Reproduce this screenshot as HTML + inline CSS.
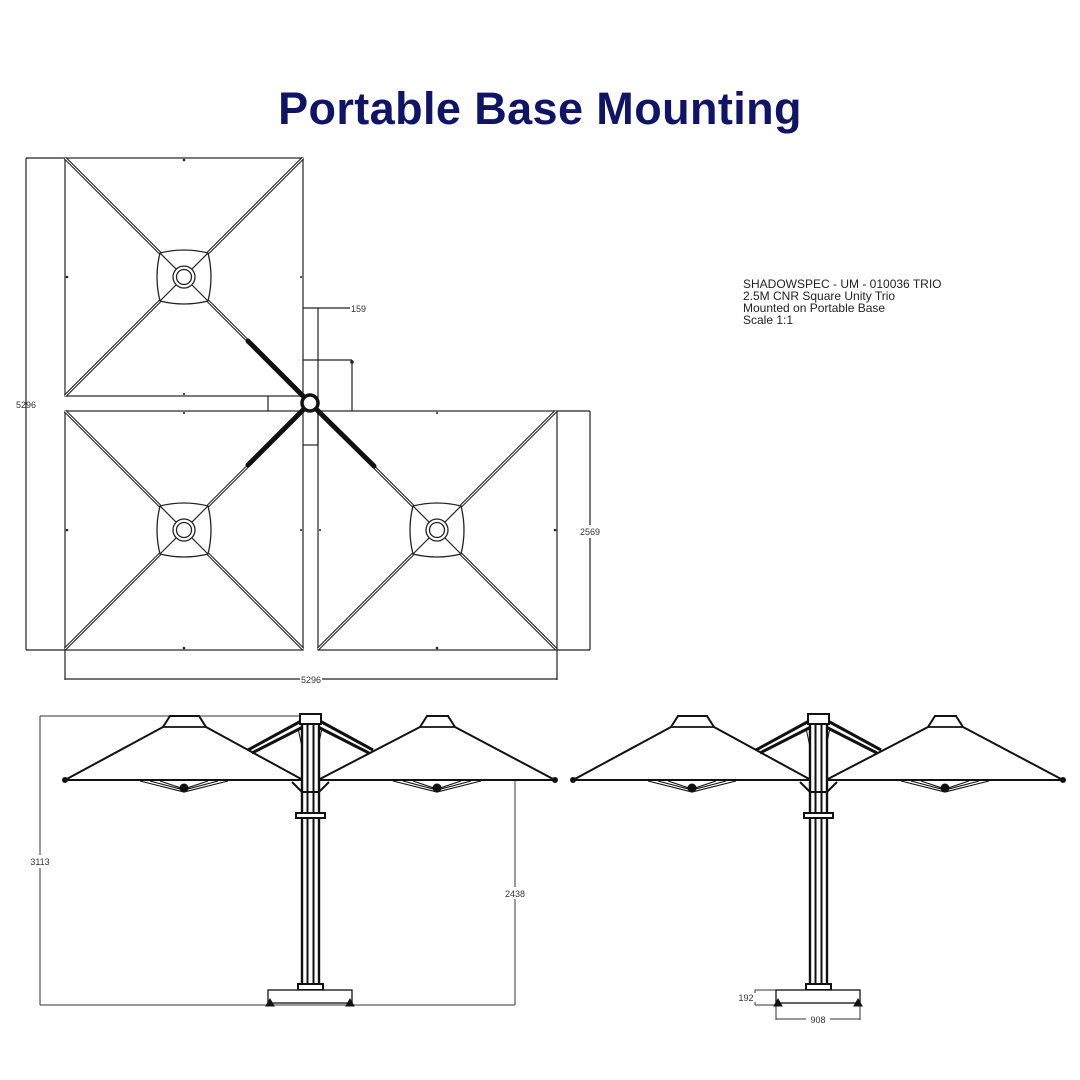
<!DOCTYPE html>
<html><head><meta charset="utf-8"><style>
html,body{margin:0;padding:0;background:#fff;width:1080px;height:1080px;overflow:hidden}
svg{display:block}
</style></head><body>
<svg width="1080" height="1080" viewBox="0 0 1080 1080" xmlns="http://www.w3.org/2000/svg">
<defs>
<g id="can">
  <path d="M-119,-119 L-24,-24 M119,-119 L24,-24 M-119,119 L-24,24 M119,119 L24,24" stroke="#222" stroke-width="3.2" fill="none"/>
  <path d="M-119,-119 L-24,-24 M119,-119 L24,-24 M-119,119 L-24,24 M119,119 L24,24" stroke="#fff" stroke-width="1" fill="none"/>
  <path d="M-24,-24 Q0,-30 24,-24 Q30,0 24,24 Q0,30 -24,24 Q-30,0 -24,-24 Z" stroke="#222" stroke-width="1.3" fill="none"/>
  <line x1="-24" y1="-24" x2="24" y2="24" stroke="#222" stroke-width="1.2"/>
  <line x1="24" y1="-24" x2="-24" y2="24" stroke="#222" stroke-width="1.2"/>
  <circle r="11" fill="#fff" stroke="#222" stroke-width="1.3"/>
  <circle r="7.5" fill="#fff" stroke="#222" stroke-width="1.3"/>
</g>
<g id="elev" stroke="#111" fill="none">
  <path d="M65,780 L163,727 L170,716 L199,716 L206,727 L303,780 Z" fill="#fff" stroke-width="2"/>
  <line x1="163" y1="727" x2="206" y2="727" stroke-width="1.8"/>
  <path d="M140,781 L184,792 L228,781 M150,781 L184,790 L218,781 M160,781 L184,789 L208,781" stroke-width="1.1"/>
  <circle cx="184" cy="788" r="4" fill="#111"/>
  <circle cx="65" cy="780" r="2.5" fill="#111"/>
  <path d="M318,780 L420,727 L427,716 L448,716 L455,727 L555,780 Z" fill="#fff" stroke-width="2"/>
  <line x1="420" y1="727" x2="455" y2="727" stroke-width="1.8"/>
  <path d="M393,781 L437,792 L481,781 M403,781 L437,790 L471,781 M413,781 L437,789 L461,781" stroke-width="1.1"/>
  <circle cx="437" cy="788" r="4" fill="#111"/>
  <circle cx="555" cy="780" r="2.5" fill="#111"/>
  <path d="M303,720 L248,750 M305,726 L252,753" stroke-width="3"/>
  <path d="M318,720 L373,750 M316,726 L369,753" stroke-width="3"/>
  <path d="M298,728 L303,752 M322,728 L317,752" stroke-width="1"/>
  <rect x="302" y="716" width="17" height="272" fill="#fff" stroke-width="2.4"/>
  <line x1="307.5" y1="716" x2="307.5" y2="988" stroke-width="2"/>
  <line x1="313.5" y1="716" x2="313.5" y2="988" stroke-width="2"/>
  <rect x="300" y="714" width="21" height="10" fill="#fff" stroke-width="2"/>
  <path d="M292,782 L302,792 L319,792 L329,782" stroke-width="2"/>
  <rect x="296" y="813" width="29" height="5" fill="#fff" stroke-width="2"/>
  <rect x="298" y="984" width="25" height="6" fill="#fff" stroke-width="2"/>
  <rect x="268" y="990" width="84" height="13" fill="#fff" stroke-width="1.3"/>
  <path d="M266,1006 L270,999 L274,1006 Z M346,1006 L350,999 L354,1006 Z" fill="#111"/>
</g>
</defs>

<text x="540" y="124" text-anchor="middle" font-family="Liberation Sans, sans-serif" font-weight="bold" font-size="45" letter-spacing="0.4" fill="#0f1466">Portable Base Mounting</text>

<g stroke="#222" stroke-width="1.2" fill="none">
  <rect x="65" y="158" width="238" height="238"/>
  <rect x="65" y="411" width="238" height="239"/>
  <rect x="318" y="411" width="239" height="239"/>
  <line x1="26" y1="158" x2="26" y2="650"/>
  <line x1="26" y1="158" x2="65" y2="158"/>
  <line x1="26" y1="650" x2="65" y2="650"/>
  <line x1="65" y1="650" x2="65" y2="680"/>
  <line x1="557" y1="650" x2="557" y2="680"/>
  <line x1="65" y1="679" x2="300" y2="679"/>
  <line x1="322" y1="679" x2="557" y2="679"/>
  <line x1="557" y1="411" x2="590" y2="411"/>
  <line x1="557" y1="650" x2="590" y2="650"/>
  <line x1="590" y1="411" x2="590" y2="525"/>
  <line x1="590" y1="538" x2="590" y2="650"/>
  <line x1="303" y1="308" x2="350" y2="308"/>
  <line x1="318" y1="308" x2="318" y2="445"/>
  <line x1="303" y1="360" x2="352" y2="360"/>
  <line x1="352" y1="360" x2="352" y2="411"/>
  <line x1="268" y1="396" x2="268" y2="411"/>
  <line x1="303" y1="445" x2="318" y2="445"/>
</g>
<circle cx="352" cy="362" r="1.8" fill="#222"/>
<g fill="#222">
  <circle cx="184" cy="160" r="1.3"/><circle cx="67" cy="277" r="1.3"/><circle cx="301" cy="277" r="1"/><circle cx="184" cy="394" r="1"/>
  <circle cx="184" cy="413" r="1"/><circle cx="67" cy="530" r="1.3"/><circle cx="301" cy="530" r="1"/><circle cx="184" cy="648" r="1.3"/>
  <circle cx="437" cy="413" r="1"/><circle cx="320" cy="530" r="1"/><circle cx="555" cy="530" r="1.3"/><circle cx="437" cy="648" r="1.3"/>
</g>
<use href="#can" x="184" y="277"/>
<use href="#can" x="184" y="530"/>
<use href="#can" x="437" y="530"/>
<g stroke="#111" stroke-linecap="round">
  <line x1="310" y1="403" x2="248" y2="341" stroke-width="5"/>
  <line x1="310" y1="403" x2="248" y2="465" stroke-width="5"/>
  <line x1="310" y1="403" x2="374" y2="466" stroke-width="5"/>
</g>
<circle cx="310" cy="403" r="8" fill="#fff" stroke="#111" stroke-width="3.5"/>

<g font-family="Liberation Sans, sans-serif" font-size="9" fill="#333">
  <text x="26" y="408" text-anchor="middle">5296</text>
  <text x="311" y="683" text-anchor="middle">5296</text>
  <text x="590" y="535" text-anchor="middle">2569</text>
  <text x="351" y="312">159</text>
</g>

<g font-family="Liberation Sans, sans-serif" font-size="12" fill="#222">
  <text x="743" y="288">SHADOWSPEC - UM - 010036 TRIO</text>
  <text x="743" y="300">2.5M CNR Square Unity Trio</text>
  <text x="743" y="312">Mounted on Portable Base</text>
  <text x="743" y="324">Scale 1:1</text>
</g>

<g stroke="#333" stroke-width="1" fill="none">
  <line x1="40" y1="716" x2="310" y2="716"/>
  <line x1="40" y1="716" x2="40" y2="855"/>
  <line x1="40" y1="868" x2="40" y2="1005"/>
  <line x1="40" y1="1005" x2="515" y2="1005"/>
  <line x1="515" y1="780" x2="515" y2="887"/>
  <line x1="515" y1="899" x2="515" y2="1005"/>
  <line x1="470" y1="780" x2="515" y2="780"/>
  <line x1="755" y1="990" x2="800" y2="990"/>
  <line x1="755" y1="1005" x2="776" y2="1005"/>
  <line x1="755" y1="990" x2="755" y2="993"/>
  <line x1="755" y1="1002" x2="755" y2="1005"/>
  <line x1="776" y1="1005" x2="776" y2="1020"/>
  <line x1="860" y1="1005" x2="860" y2="1020"/>
  <line x1="776" y1="1019" x2="806" y2="1019"/>
  <line x1="830" y1="1019" x2="860" y2="1019"/>
</g>
<use href="#elev"/>
<use href="#elev" x="508"/>
<g font-family="Liberation Sans, sans-serif" font-size="9" fill="#333">
  <text x="40" y="865" text-anchor="middle">3113</text>
  <text x="515" y="897" text-anchor="middle">2438</text>
  <text x="746" y="1001" text-anchor="middle">192</text>
  <text x="818" y="1023" text-anchor="middle">908</text>
</g>
</svg>
</body></html>
